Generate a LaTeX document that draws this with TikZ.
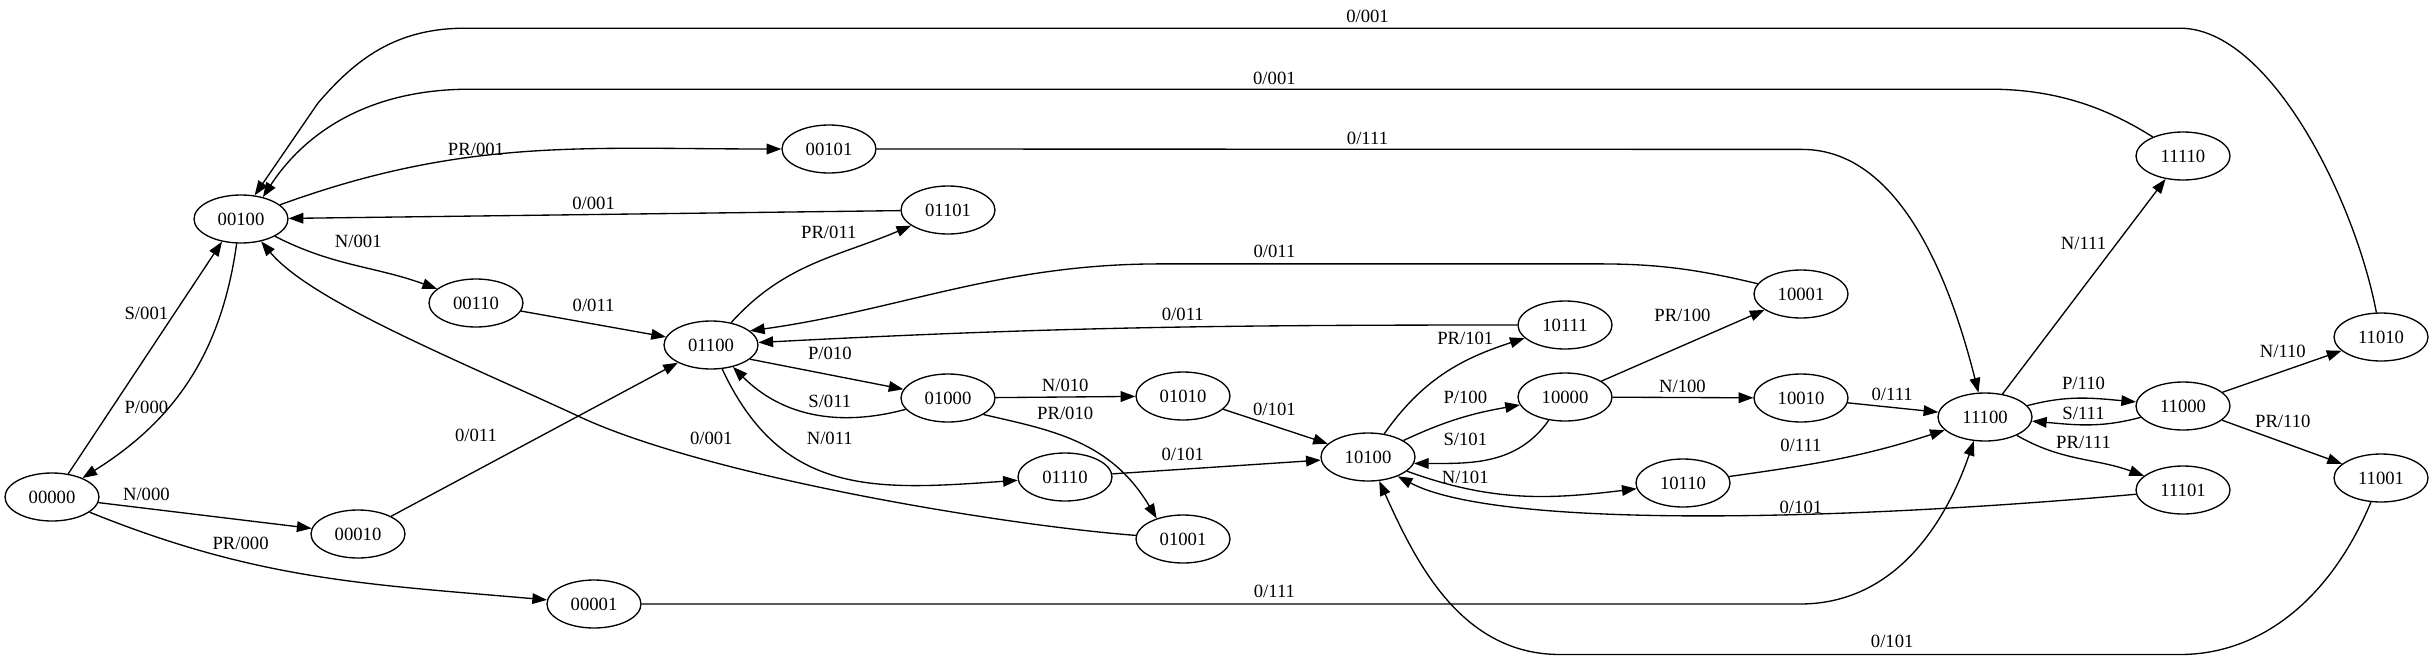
\documentclass[tikz,border=0pt]{standalone}
\usepackage{fontspec}
\setmainfont{Liberation Serif}
\usetikzlibrary{shapes.geometric,arrows.meta}
\begin{document}
\begin{tikzpicture}[x=0.75pt,y=0.75pt,
  st/.style={ellipse,draw,line width=1pt,minimum width=70.5pt,minimum height=36pt,inner sep=0pt,font=\fontsize{14}{16}\selectfont},
  lb/.style={inner sep=0pt,font=\fontsize{14}{16}\selectfont},
  edg/.style={line width=1pt,-{Triangle[length=11pt,width=8pt]}}]
\useasboundingbox (0,0) rectangle (2433,-657);
% states
\node[st] (n00100) at (241,-219) {00100};
\node[st] (n00000) at (52,-497) {00000};
\node[st] (n00110) at (476,-303) {00110};
\node[st] (n01100) at (711,-345) {01100};
\node[st] (n00010) at (358,-534) {00010};
\node[st] (n00001) at (594,-604) {00001};
\node[st] (n00101) at (829,-149) {00101};
\node[st] (n01101) at (948,-210) {01101};
\node[st] (n01000) at (948,-398) {01000};
\node[st] (n01010) at (1183,-396) {01010};
\node[st] (n01110) at (1065,-477) {01110};
\node[st] (n01001) at (1183,-539) {01001};
\node[st] (n10100) at (1368,-457) {10100};
\node[st] (n10111) at (1565,-325) {10111};
\node[st] (n10000) at (1565,-397) {10000};
\node[st] (n10001) at (1801,-294) {10001};
\node[st] (n10010) at (1801,-398) {10010};
\node[st] (n10110) at (1683,-483) {10110};
\node[st] (n11100) at (1985,-417) {11100};
\node[st] (n11110) at (2183,-156) {11110};
\node[st] (n11000) at (2183,-406) {11000};
\node[st] (n11101) at (2183,-490) {11101};
\node[st] (n11010) at (2381,-337) {11010};
\node[st] (n11001) at (2381,-478) {11001};
% edges
\draw[edg] (n00000.55) -- (n00100.-130);
\draw[edg] (n00100.-100) to[out=-98,in=32] (n00000);
\draw[edg] (n00000) -- (n00010);
\draw[edg] (n00000) to[out=-22,in=175] (n00001);
\draw[edg] (n00100) to[out=20,in=180] (n00101);
\draw[edg] (n01101) -- (n00100);
\draw[edg] (n00100) to[out=-27,in=160] (n00110);
\draw[edg] (n00110) -- (n01100);
\draw[edg] (n00010) -- (n01100);
\draw[edg] (n01001) .. controls (1000,-525) and (700,-475) .. (575,-414.6) .. controls (450,-357) and (310,-300) .. (n00100.-48);
\draw[edg] (n00001) -- (1800,-604) .. controls (1905,-604) and (1952,-505) .. (n11100.-115);
\draw[edg] (n00101) -- (1802,-149.4) .. controls (1900,-149.4) and (1950,-280) .. (n11100.105);
\draw[edg] (n11110) .. controls (2110,-110) and (2060,-89.2) .. (1990,-89.2) -- (470,-89.2) .. controls (360,-89.2) and (300,-140) .. (n00100.45);
\draw[edg] (n11010) .. controls (2355,-200) and (2270,-28.2) .. (2180,-28.2) -- (465,-28.2) .. controls (395,-28.2) and (355,-60) .. (318,-103) -- (n00100.60);
\draw[edg] (n01100) to[out=48,in=-157] (n01101);
\draw[edg] (n10001) .. controls (1700,-270) and (1660,-263.9) .. (1600,-263.9) -- (1160,-263.9) .. controls (1000,-263.9) and (900,-310) .. (n01100.20);
\draw[edg] (n10111) to[out=180,in=3] (n01100);
\draw[edg] (n01100.-20) -- (n01000);
\draw[edg] (n01000) to[out=-165,in=-45] (n01100);
\draw[edg] (n01100) to[out=-65,in=-176,looseness=1.15] (n01110);
\draw[edg] (n01000) -- (n01010);
\draw[edg] (n01000.-25) .. controls (1050,-430) and (1110,-440) .. (n01001.142);
\draw[edg] (n01010) -- (n10100);
\draw[edg] (n01110) -- (n10100);
\draw[edg] (n10100) to[out=55,in=-162] (n10111);
\draw[edg] (n10100) to[out=25,in=-170] (n10000);
\draw[edg] (n10000) to[out=-125,in=0] (n10100.-8);
\draw[edg] (n10100) to[out=-20,in=-173] (n10110);
\draw[edg] (n11101) .. controls (1850,-520) and (1500,-530) .. (n10100.-33);
\draw[edg] (n11001) .. controls (2330,-600) and (2260,-654.5) .. (2180,-654.5) -- (1560,-654.5) .. controls (1460,-654.5) and (1415,-560) .. (n10100.-65);
\draw[edg] (n10000) -- (n10001);
\draw[edg] (n10000) -- (n10010);
\draw[edg] (n10010) -- (n11100);
\draw[edg] (n10110) to[out=8,in=-162] (n11100);
\draw[edg] (n11100) -- (n11110);
\draw[edg] (n11100) to[out=15,in=175] (n11000);
\draw[edg] (n11000) to[out=-165,in=-5] (n11100);
\draw[edg] (n11100) to[out=-30,in=160] (n11101);
\draw[edg] (n11000) -- (n11010);
\draw[edg] (n11000) -- (n11001);
% labels
\node[lb] (l01) at (146.4,-313.5) {S/001};
\node[lb] (l02) at (146.4,-407.4) {P/000};
\node[lb] (l03) at (146.4,-494.5) {N/000};
\node[lb] (l04) at (240.6,-543) {PR/000};
\node[lb] (l05) at (476,-149.4) {PR/001};
\node[lb] (l06) at (593.6,-202.9) {0/001};
\node[lb] (l07) at (358.3,-241.2) {N/001};
\node[lb] (l08) at (593.6,-305.1) {0/011};
\node[lb] (l09) at (476,-435.6) {0/011};
\node[lb] (l10) at (711.3,-438.6) {0/001};
\node[lb] (l11) at (1274.4,-591.3) {0/111};
\node[lb] (l12) at (1367.5,-138) {0/111};
\node[lb] (l13) at (1274.4,-77.9) {0/001};
\node[lb] (l14) at (1367.5,-16) {0/001};
\node[lb] (l15) at (828.8,-232.7) {PR/011};
\node[lb] (l16) at (1274.4,-251.7) {0/011};
\node[lb] (l17) at (1182.8,-314.8) {0/011};
\node[lb] (l18) at (829.8,-353.5) {P/010};
\node[lb] (l19) at (829.8,-401) {S/011};
\node[lb] (l20) at (829.8,-438.6) {N/011};
\node[lb] (l21) at (1065.2,-385.1) {N/010};
\node[lb] (l22) at (1065.2,-413.7) {PR/010};
\node[lb] (l23) at (1274.4,-409) {0/101};
\node[lb] (l24) at (1182.8,-454.5) {0/101};
\node[lb] (l25) at (1465.3,-338) {PR/101};
\node[lb] (l26) at (1465.3,-396.9) {P/100};
\node[lb] (l27) at (1465.3,-439.8) {S/101};
\node[lb] (l28) at (1465.3,-477.7) {N/101};
\node[lb] (l29) at (1800.9,-507.2) {0/101};
\node[lb] (l30) at (1892.2,-641.8) {0/101};
\node[lb] (l31) at (1682.4,-315.7) {PR/100};
\node[lb] (l32) at (1682.4,-386.4) {N/100};
\node[lb] (l33) at (1892.2,-394.8) {0/111};
\node[lb] (l34) at (1800.9,-445.3) {0/111};
\node[lb] (l35) at (2083.5,-243.3) {N/111};
\node[lb] (l36) at (2083.5,-383) {P/110};
\node[lb] (l37) at (2083.5,-413.7) {S/111};
\node[lb] (l38) at (2083.5,-442.8) {PR/111};
\node[lb] (l39) at (2282.8,-351.4) {N/110};
\node[lb] (l40) at (2282.8,-420.9) {PR/110};
\end{tikzpicture}
\end{document}
